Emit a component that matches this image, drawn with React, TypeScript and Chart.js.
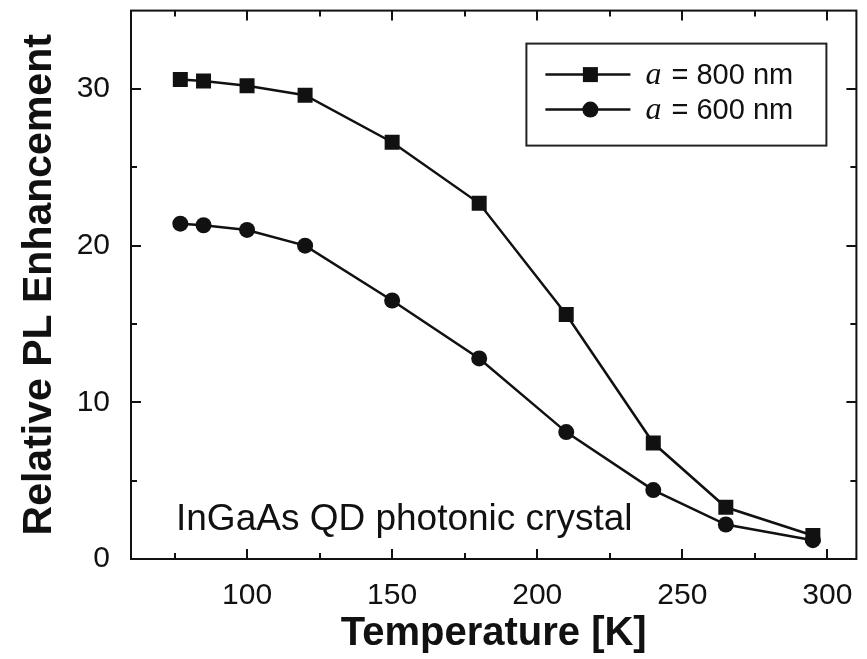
import React, { useEffect, useRef } from 'react';
import { Chart, registerables } from 'chart.js';

Chart.register(...registerables);

// Temperature-dependent PL enhancement of two photonic crystal lattices
const temperatures = [77, 85, 100, 120, 150, 180, 210, 240, 265, 295];
const enhancement800 = [30.6, 30.5, 30.2, 29.6, 26.6, 22.7, 15.6, 7.4, 3.3, 1.5];
const enhancement600 = [21.4, 21.3, 21.0, 20.0, 16.5, 12.8, 8.1, 4.4, 2.2, 1.2];
const seriesLabels = ['a = 800 nm', 'a = 600 nm'];

const xMajorTicks = [100, 150, 200, 250, 300];
const xMinorTicks = [75, 125, 175, 225, 275];
const yMajorTicks = [0, 10, 20, 30];
const yMinorTicks = [5, 15, 25];

const xTitle = 'Temperature [K]';
const yTitle = 'Relative PL Enhancement';
const annotationText = 'InGaAs QD photonic crystal';

const INK = '#111';
const SANS = "'Liberation Sans', Arial, Helvetica, sans-serif";
const SERIF = "'Liberation Serif', 'Times New Roman', serif";

// Boxed frame with inward-pointing major and minor ticks on all four sides
const framePlugin = {
  id: 'frameTicks',
  afterDatasetsDraw(chart: any) {
    const { ctx, chartArea } = chart;
    const { left, right, top, bottom } = chartArea;
    const xs = chart.scales.x;
    const ys = chart.scales.y;
    const major = 10;
    const minor = 6;
    ctx.save();
    ctx.strokeStyle = INK;
    ctx.lineWidth = 2;
    ctx.strokeRect(left, top, right - left, bottom - top);
    ctx.beginPath();
    const xTick = (v: number, len: number) => {
      const px = Math.round(xs.getPixelForValue(v));
      ctx.moveTo(px, bottom);
      ctx.lineTo(px, bottom - len);
      ctx.moveTo(px, top);
      ctx.lineTo(px, top + len);
    };
    const yTick = (v: number, len: number) => {
      const py = Math.round(ys.getPixelForValue(v));
      ctx.moveTo(left, py);
      ctx.lineTo(left + len, py);
      ctx.moveTo(right, py);
      ctx.lineTo(right - len, py);
    };
    xMajorTicks.forEach((v) => xTick(v, major));
    xMinorTicks.forEach((v) => xTick(v, minor));
    yMajorTicks.forEach((v) => yTick(v, major));
    yMinorTicks.forEach((v) => yTick(v, minor));
    ctx.stroke();
    ctx.restore();
  },
};

function drawMarker(ctx: CanvasRenderingContext2D, style: string, x: number, y: number) {
  ctx.beginPath();
  if (style === 'rect') {
    ctx.rect(x - 7.5, y - 7.5, 15, 15);
  } else {
    ctx.arc(x, y, 8, 0, Math.PI * 2);
  }
  ctx.fillStyle = INK;
  ctx.fill();
}

// Inset legend in the upper right corner of the plot
const legendPlugin = {
  id: 'insetLegend',
  afterDraw(chart: any) {
    const { ctx, chartArea } = chart;
    const boxW = 300;
    const boxH = 102;
    const boxLeft = chartArea.right - 330;
    const boxTop = chartArea.top + 33;
    ctx.save();
    ctx.fillStyle = '#fff';
    ctx.fillRect(boxLeft, boxTop, boxW, boxH);
    ctx.strokeStyle = '#222';
    ctx.lineWidth = 2;
    ctx.strokeRect(boxLeft, boxTop, boxW, boxH);
    chart.data.datasets.forEach((ds: any, i: number) => {
      const y = boxTop + 31 + i * 35;
      ctx.beginPath();
      ctx.strokeStyle = INK;
      ctx.lineWidth = 2.5;
      ctx.moveTo(boxLeft + 19, y);
      ctx.lineTo(boxLeft + 104, y);
      ctx.stroke();
      drawMarker(ctx, ds.pointStyle, boxLeft + 64, y);

      const label: string = ds.label;
      const symbol = label.charAt(0);
      const rest = label.slice(1);
      ctx.fillStyle = INK;
      ctx.textBaseline = 'middle';
      ctx.textAlign = 'left';
      ctx.font = `italic 32px ${SERIF}`;
      const tx = boxLeft + 119;
      ctx.fillText(symbol, tx, y + 1);
      const w = ctx.measureText(symbol).width;
      ctx.font = `29px ${SANS}`;
      ctx.fillText(rest, tx + w + 2, y + 1);
    });
    ctx.restore();
  },
};

// Sample description in the lower left of the plot
const annotationPlugin = {
  id: 'sampleNote',
  afterDraw(chart: any) {
    const { ctx, chartArea } = chart;
    ctx.save();
    ctx.fillStyle = INK;
    ctx.font = `37px ${SANS}`;
    ctx.textAlign = 'left';
    ctx.textBaseline = 'alphabetic';
    ctx.fillText(annotationText, chartArea.left + 45, chartArea.bottom - 29);
    ctx.restore();
  },
};

// Fixed axis box sizes with no extra label overhang padding
const fixAxisBox = (size: { width?: number; height?: number }) => (scale: any) => {
  if (size.width !== undefined) scale.width = size.width;
  if (size.height !== undefined) scale.height = size.height;
  scale.paddingTop = 0;
  scale.paddingBottom = 0;
  scale.paddingLeft = 0;
  scale.paddingRight = 0;
};

export default function App() {
  const canvasRef = useRef<HTMLCanvasElement | null>(null);

  useEffect(() => {
    const canvas = canvasRef.current;
    if (!canvas) return;
    const points = (vals: number[]) => temperatures.map((t, i) => ({ x: t, y: vals[i] }));

    const chart = new Chart(canvas, {
      type: 'line',
      data: {
        datasets: [
          {
            label: seriesLabels[0],
            data: points(enhancement800),
            borderColor: INK,
            backgroundColor: INK,
            borderWidth: 2.5,
            pointStyle: 'rect',
            pointRadius: 10.6,
            pointBorderWidth: 0,
            pointBackgroundColor: INK,
            tension: 0,
          },
          {
            label: seriesLabels[1],
            data: points(enhancement600),
            borderColor: INK,
            backgroundColor: INK,
            borderWidth: 2.5,
            pointStyle: 'circle',
            pointRadius: 8,
            pointBorderWidth: 0,
            pointBackgroundColor: INK,
            tension: 0,
          },
        ],
      },
      options: {
        responsive: false,
        animation: false,
        devicePixelRatio: 1,
        layout: { padding: { top: 9, right: 4, left: 0, bottom: 0 } },
        plugins: {
          legend: { display: false },
          tooltip: { enabled: false },
        },
        scales: {
          x: {
            type: 'linear',
            min: 60,
            max: 310,
            grid: { display: false },
            border: { display: false },
            afterBuildTicks: (scale: any) => {
              scale.ticks = xMajorTicks.map((v) => ({ value: v }));
            },
            afterFit: fixAxisBox({ height: 100 }),
            ticks: {
              padding: 11,
              color: INK,
              font: { family: SANS, size: 30 },
              maxRotation: 0,
            },
            title: {
              display: true,
              text: xTitle,
              color: INK,
              font: { family: SANS, size: 40, weight: 'bold' },
              padding: { top: 0, bottom: 1 },
            },
          },
          y: {
            type: 'linear',
            min: 0,
            max: 35,
            grid: { display: false },
            border: { display: false },
            afterBuildTicks: (scale: any) => {
              scale.ticks = yMajorTicks.map((v) => ({ value: v }));
            },
            afterFit: fixAxisBox({ width: 131 }),
            ticks: {
              padding: 13,
              color: INK,
              font: { family: SANS, size: 30 },
            },
            title: {
              display: true,
              text: yTitle,
              color: INK,
              font: { family: SANS, size: 41, weight: 'bold' },
              padding: { top: 15, bottom: 0 },
            },
          },
        },
      },
      plugins: [framePlugin, legendPlugin, annotationPlugin],
    });

    return () => chart.destroy();
  }, []);

  return (
    <div style={{ position: 'absolute', left: 0, top: 0, width: 867, height: 659, background: '#fff' }}>
      <canvas ref={canvasRef} width={867} height={659} style={{ display: 'block' }} />
    </div>
  );
}
